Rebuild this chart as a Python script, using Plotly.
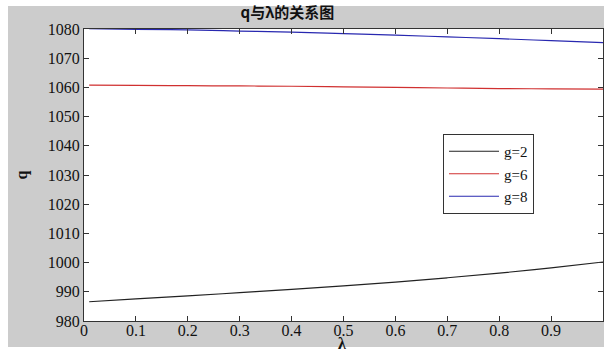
import plotly.graph_objects as go

lam = [0.01, 0.1, 0.2, 0.3, 0.4, 0.5, 0.6, 0.7, 0.8, 0.9, 1.0]
q_g2 = [986.6, 987.6, 988.6, 989.7, 990.8, 992.0, 993.3, 994.8, 996.4, 998.2, 1000.2]
q_g6 = [1060.8, 1060.7, 1060.6, 1060.5, 1060.4, 1060.2, 1060.0, 1059.8, 1059.6, 1059.5, 1059.4]
q_g8 = [1080.1, 1079.9, 1079.7, 1079.3, 1078.9, 1078.4, 1077.9, 1077.3, 1076.7, 1076.0, 1075.3]

series = [("g=2", q_g2, "#222222"), ("g=6", q_g6, "#d03030"), ("g=8", q_g8, "#2828b0")]

x_ticks = [0, 0.1, 0.2, 0.3, 0.4, 0.5, 0.6, 0.7, 0.8, 0.9]
x_ticktext = ["0", "0.1", "0.2", "0.3", "0.4", "0.5", "0.6", "0.7", "0.8", "0.9"]
y_ticks = [980, 990, 1000, 1010, 1020, 1030, 1040, 1050, 1060, 1070, 1080]

serif = "Liberation Serif, serif"

fig = go.Figure()
for name, ys, col in series:
    fig.add_trace(go.Scatter(x=lam, y=ys, mode="lines", name=name,
                             line=dict(color=col, width=1.2, shape="spline")))

L, R, T, B = 84, 1, 29, 31
W, H = 604, 352
pw, ph = W - L - R, H - T - B

def px(xp):
    return (xp - L) / pw

def py(yp):
    return (H - B - yp) / ph

fig.update_layout(
    width=W, height=H,
    margin=dict(l=L, r=R, t=T, b=B, autoexpand=False),
    paper_bgcolor="white",
    plot_bgcolor="white",
    font=dict(family=serif, size=16, color="#111111"),
    title=dict(text="<b>q与λ的关系图</b>", x=px(331), xanchor="center",
               y=1 - 13 / H, yanchor="middle",
               font=dict(family="Noto Sans CJK SC", size=15, color="#111111")),
    showlegend=True,
    legend=dict(x=px(443), y=py(134), xanchor="left", yanchor="top",
                bgcolor="white", bordercolor="#333333", borderwidth=1,
                font=dict(family=serif, size=15, color="#111111"),
                tracegroupgap=0, itemwidth=50),
    shapes=[
        dict(type="rect", xref="paper", yref="paper", layer="below",
             x0=px(8), x1=px(604), y0=py(347), y1=py(6),
             fillcolor="#cccccc", line=dict(width=0)),
        dict(type="rect", xref="paper", yref="paper", layer="below",
             x0=0, x1=1, y0=0, y1=1,
             fillcolor="white", line=dict(width=0)),
    ],
    annotations=[
        dict(text="<b>λ</b>", xref="paper", yref="paper", x=px(342), y=py(343),
             xanchor="center", yanchor="middle", showarrow=False,
             font=dict(family=serif, size=16, color="#111111")),
    ],
    xaxis=dict(range=[0, 1], tickvals=x_ticks, ticktext=x_ticktext,
               ticks="inside", ticklen=5, tickcolor="#333333",
               showline=True, linecolor="#333333", linewidth=1, mirror="allticks",
               showgrid=False, zeroline=False, automargin=False,
               ticklabelstandoff=-5,
               tickfont=dict(family=serif, size=16, color="#111111")),
    yaxis=dict(range=[980, 1080], tickvals=y_ticks,
               ticks="inside", ticklen=5, tickcolor="#333333",
               showline=True, linecolor="#333333", linewidth=1, mirror="allticks",
               showgrid=False, zeroline=False, automargin=False,
               tickfont=dict(family=serif, size=16, color="#111111"),
               title=dict(text="<b>q</b>", standoff=16,
                          font=dict(family=serif, size=16, color="#111111"))),
)

fig.write_html("out.html", config={"displayModeBar": False},
               post_script="document.body.style.margin='0';document.body.style.overflow='hidden';")
